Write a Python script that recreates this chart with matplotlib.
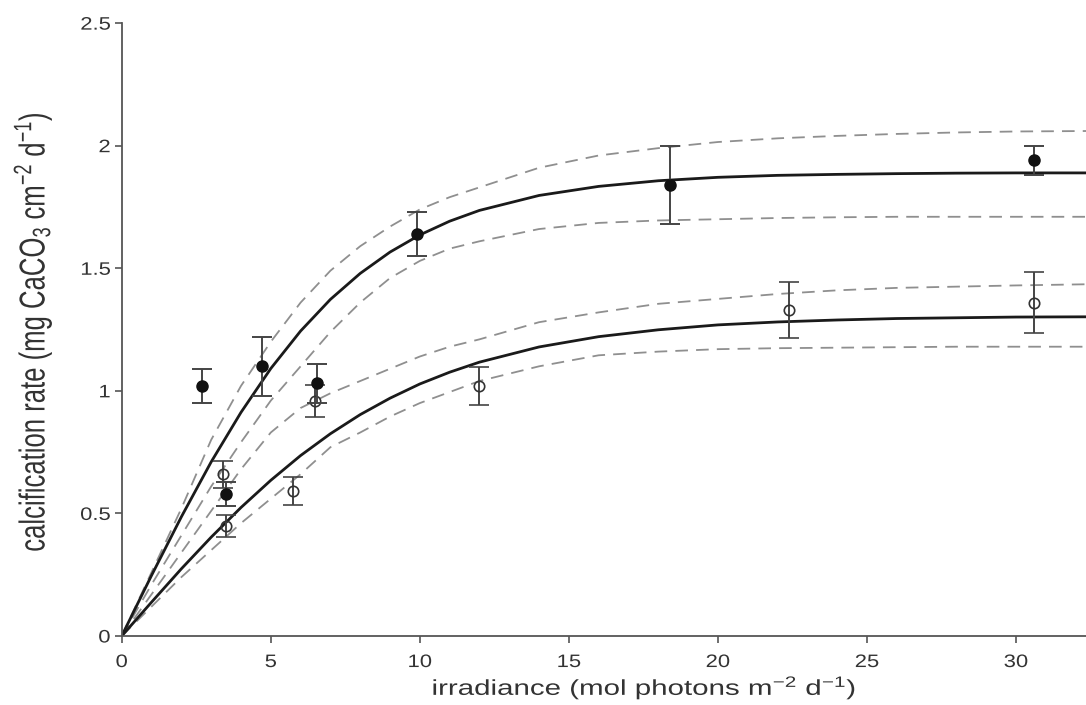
import matplotlib
matplotlib.use("Agg")
from matplotlib import pyplot as plt
from matplotlib import patheffects
from matplotlib.transforms import Affine2D

# Measured calcification rates (filled = series 1, open = series 2)
irr_filled = [2.7, 4.72, 6.54, 3.5, 9.9, 18.4, 30.6]
rate_filled = [1.02, 1.10, 1.03, 0.58, 1.64, 1.84, 1.94]
err_filled = [0.07, 0.12, 0.08, 0.05, 0.09, 0.16, 0.06]

irr_open = [3.4, 3.5, 6.5, 5.74, 12.0, 22.4, 30.6]
rate_open = [0.66, 0.45, 0.96, 0.59, 1.02, 1.33, 1.36]
err_open = [0.055, 0.045, 0.065, 0.057, 0.077, 0.115, 0.125]

# Fitted curves with confidence bands
irr_fit = [0, 1, 2, 3, 4, 5, 6, 7, 8, 9, 10, 11, 12, 14, 16, 18, 20, 22, 24, 26, 28, 30, 32.5]
fit_filled = [0, 0.247, 0.486, 0.710, 0.912, 1.091, 1.244, 1.373, 1.479, 1.566, 1.636, 1.692,
              1.736, 1.797, 1.834, 1.857, 1.871, 1.879, 1.883, 1.886, 1.888, 1.889, 1.889]
hi_filled = [0, 0.26, 0.52, 0.80, 1.02, 1.20, 1.36, 1.49, 1.59, 1.67, 1.74, 1.79,
             1.83, 1.91, 1.96, 1.99, 2.015, 2.03, 2.04, 2.048, 2.054, 2.058, 2.06]
lo_filled = [0, 0.21, 0.41, 0.61, 0.79, 0.96, 1.10, 1.24, 1.36, 1.46, 1.53, 1.58,
             1.61, 1.66, 1.685, 1.695, 1.70, 1.705, 1.708, 1.71, 1.71, 1.71, 1.71]

fit_open = [0, 0.138, 0.274, 0.403, 0.524, 0.635, 0.736, 0.825, 0.903, 0.970, 1.028, 1.076,
            1.117, 1.179, 1.221, 1.249, 1.269, 1.281, 1.289, 1.295, 1.298, 1.301, 1.302]
hi_open = [0, 0.17, 0.34, 0.51, 0.68, 0.83, 0.93, 0.99, 1.04, 1.09, 1.14, 1.18,
           1.21, 1.28, 1.32, 1.355, 1.375, 1.395, 1.41, 1.42, 1.425, 1.43, 1.435]
lo_open = [0, 0.12, 0.24, 0.35, 0.46, 0.56, 0.66, 0.77, 0.83, 0.895, 0.95, 0.995,
           1.04, 1.10, 1.145, 1.16, 1.17, 1.174, 1.176, 1.178, 1.18, 1.18, 1.18]


class Widen(patheffects.AbstractPathEffect):
    """Draw a text's glyphs stretched sideways about one edge or its centre."""

    def __init__(self, text, sx, anchor="center"):
        super().__init__()
        self.text = text
        self.sx = sx
        self.anchor = anchor

    def draw_path(self, renderer, gc, tpath, affine, rgbFace=None):
        bb = self.text.get_window_extent(renderer)
        x0 = {"center": 0.5 * (bb.x0 + bb.x1), "right": bb.x1, "left": bb.x0}[self.anchor]
        stretch = Affine2D().translate(-x0, 0).scale(self.sx, 1).translate(x0, 0)
        renderer.draw_path(gc, tpath, affine + stretch, rgbFace)


plt.rcParams["font.family"] = ["Liberation Sans", "DejaVu Sans"]
plt.rcParams["mathtext.fontset"] = "custom"
plt.rcParams["mathtext.rm"] = "Liberation Sans"
plt.rcParams["mathtext.it"] = "Liberation Sans"

fig = plt.figure(figsize=(10.86, 7.05), dpi=100)
ax = fig.add_axes([0.1121, 0.0979, 0.8879, 0.8693])

dash = dict(color="#8f8f8f", lw=1.3, dashes=(7, 4.5))
ax.plot(irr_fit, hi_filled, **dash)
ax.plot(irr_fit, lo_filled, **dash)
ax.plot(irr_fit, hi_open, **dash)
ax.plot(irr_fit, lo_open, **dash)
ax.plot(irr_fit, fit_filled, color="#1a1a1a", lw=2.0)
ax.plot(irr_fit, fit_open, color="#1a1a1a", lw=2.0)

ax.errorbar(irr_open, rate_open, yerr=err_open, fmt="o", ms=7.5, mfc="none", mec="#333333",
            mew=1.2, ecolor="#444444", elinewidth=1.4, capsize=7.5, capthick=1.4, zorder=3)
ax.errorbar(irr_filled, rate_filled, yerr=err_filled, fmt="o", ms=8, mfc="#111111", mec="#111111",
            ecolor="#444444", elinewidth=1.4, capsize=7.5, capthick=1.4, zorder=4)

ax.set_xlim(0, 32.35)
ax.set_ylim(0, 2.5)
ax.set_xticks([0, 5, 10, 15, 20, 25, 30])
ax.set_yticks([0, 0.5, 1, 1.5, 2, 2.5])
ax.set_yticklabels(["0", "0.5", "1", "1.5", "2", "2.5"])
for side in ["top", "right"]:
    ax.spines[side].set_visible(False)
for side in ["left", "bottom"]:
    ax.spines[side].set_color("#555555")
    ax.spines[side].set_linewidth(1.3)
ax.tick_params(direction="out", length=5, width=1.2, color="#555555",
               labelsize=13, labelcolor="#333333", pad=3)
ax.tick_params(axis="x", pad=8)

ax.set_xlabel(r"irradiance (mol photons m$^{-2}$ d$^{-1}$)", fontsize=15.5, color="#333333")
ax.xaxis.set_label_coords(0.5416, -0.062)
ax.set_ylabel(r"calcification rate (mg CaCO$_{3}$ cm$^{-2}$ d$^{-1}$)", fontsize=18.5,
              color="#333333")
ax.yaxis.set_label_coords(-0.076, 0.497)

# wide lettering, as in the rest of the figure
xl = ax.xaxis.label
xl.set_path_effects([Widen(xl, 1.37)])
yl = ax.yaxis.label
yl.set_path_effects([Widen(yl, 1.4)])
for t in ax.get_xticklabels():
    t.set_path_effects([Widen(t, 1.22)])
for t in ax.get_yticklabels():
    t.set_path_effects([Widen(t, 1.22, "right")])

fig.savefig("out.png", dpi=100)
